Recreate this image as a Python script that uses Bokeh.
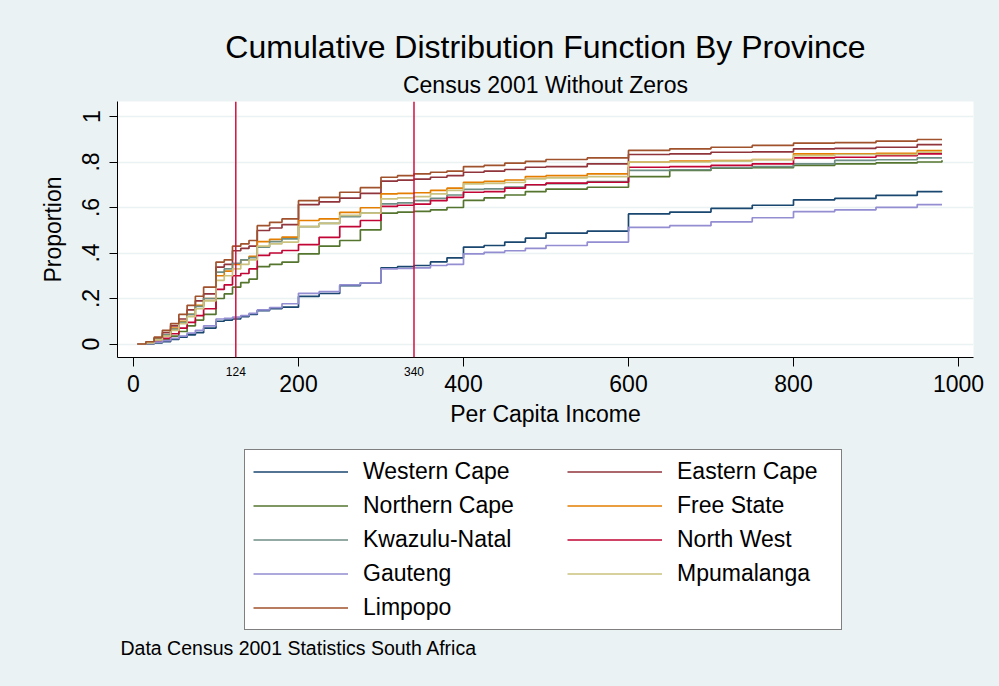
from bokeh.plotting import figure
from bokeh.layouts import column
from bokeh.models import Range1d, Span, Label, Legend, LegendItem, FixedTicker, LinearAxis
from bokeh.embed import file_html
from bokeh.resources import INLINE

# ---------------- data ----------------
income = [5, 15, 25, 35, 45, 55, 65, 75, 85, 100, 110, 120, 130, 140, 150, 165, 180,
          200, 225, 250, 275, 300, 320, 340, 360, 380, 400, 425, 450, 475, 500, 550,
          600, 650, 700, 750, 800, 850, 900, 950, 980]

western_cape = [0, 0.0, 0.005, 0.01, 0.02, 0.03, 0.04, 0.05, 0.07,
                0.10, 0.105, 0.11, 0.12, 0.13, 0.147, 0.155, 0.162,
                0.209, 0.222, 0.257, 0.269,
                0.335, 0.34, 0.345, 0.361, 0.379,
                0.426, 0.433, 0.448, 0.465, 0.487, 0.496,
                0.572, 0.58, 0.596, 0.61,
                0.634, 0.64, 0.653, 0.67, 0.672]
eastern_cape = [0, 0.008, 0.025, 0.05, 0.08, 0.11, 0.15, 0.19, 0.22,
                0.338, 0.35, 0.41, 0.42, 0.43, 0.499, 0.51, 0.525,
                0.613, 0.625, 0.641, 0.662,
                0.716, 0.72, 0.725, 0.733, 0.74,
                0.755, 0.76, 0.767, 0.777, 0.78, 0.792,
                0.833, 0.836, 0.843, 0.845,
                0.858, 0.86, 0.865, 0.876, 0.876]
northern_cape = [0, 0.003, 0.01, 0.02, 0.035, 0.055, 0.08, 0.105, 0.13,
                 0.20, 0.22, 0.25, 0.27, 0.285, 0.34, 0.35, 0.36,
                 0.396, 0.43, 0.455, 0.502,
                 0.575, 0.58, 0.583, 0.59, 0.60,
                 0.631, 0.642, 0.655, 0.67, 0.681, 0.689,
                 0.736, 0.763, 0.773, 0.775,
                 0.785, 0.792, 0.796, 0.80, 0.808]
free_state = [0, 0.005, 0.02, 0.04, 0.07, 0.10, 0.13, 0.17, 0.20,
              0.30, 0.32, 0.35, 0.37, 0.385, 0.45, 0.46, 0.47,
              0.543, 0.55, 0.579, 0.599,
              0.66, 0.662, 0.665, 0.675, 0.685,
              0.711, 0.715, 0.721, 0.736, 0.74, 0.748,
              0.80, 0.804, 0.806, 0.811,
              0.836, 0.836, 0.838, 0.85, 0.85]
kwazulu_natal = [0, 0.006, 0.02, 0.04, 0.065, 0.095, 0.13, 0.165, 0.20,
                 0.316, 0.33, 0.355, 0.37, 0.38, 0.426, 0.45, 0.462,
                 0.516, 0.53, 0.56, 0.575,
                 0.616, 0.62, 0.63, 0.64, 0.655,
                 0.68, 0.682, 0.69, 0.70, 0.705, 0.714,
                 0.763, 0.766, 0.775, 0.78,
                 0.792, 0.807, 0.81, 0.818, 0.818]
north_west = [0, 0.004, 0.012, 0.025, 0.045, 0.07, 0.095, 0.125, 0.155,
              0.24, 0.26, 0.30, 0.31, 0.33, 0.39, 0.40, 0.411,
              0.437, 0.469, 0.516, 0.543,
              0.605, 0.61, 0.615, 0.63, 0.645,
              0.667, 0.67, 0.685, 0.70, 0.707, 0.711,
              0.777, 0.78, 0.785, 0.792,
              0.818, 0.821, 0.828, 0.836, 0.836]
gauteng = [0, 0.002, 0.008, 0.015, 0.025, 0.035, 0.048, 0.06, 0.08,
           0.11, 0.113, 0.118, 0.125, 0.135, 0.15, 0.16, 0.177,
           0.223, 0.23, 0.26, 0.269,
           0.33, 0.332, 0.335, 0.345, 0.35,
           0.396, 0.403, 0.41, 0.42, 0.433, 0.448,
           0.513, 0.52, 0.537, 0.555,
           0.582, 0.59, 0.601, 0.613, 0.613]
mpumalanga = [0, 0.005, 0.018, 0.035, 0.06, 0.09, 0.12, 0.155, 0.19,
              0.28, 0.30, 0.33, 0.35, 0.37, 0.43, 0.44, 0.448,
              0.516, 0.53, 0.565, 0.575,
              0.638, 0.642, 0.648, 0.66, 0.675,
              0.704, 0.706, 0.71, 0.726, 0.73, 0.736,
              0.80, 0.80, 0.804, 0.81,
              0.828, 0.833, 0.833, 0.843, 0.843]
limpopo = [0, 0.01, 0.03, 0.06, 0.09, 0.13, 0.17, 0.21, 0.25,
           0.36, 0.37, 0.43, 0.44, 0.455, 0.52, 0.535, 0.55,
           0.63, 0.645, 0.667, 0.687,
           0.733, 0.74, 0.748, 0.755, 0.76,
           0.78, 0.785, 0.795, 0.803, 0.811, 0.818,
           0.851, 0.858, 0.865, 0.873,
           0.883, 0.885, 0.892, 0.899, 0.899]

province_names = ["Western Cape", "Eastern Cape", "Northern Cape", "Free State",
                  "Kwazulu-Natal", "North West", "Gauteng", "Mpumalanga", "Limpopo"]
province_values = [western_cape, eastern_cape, northern_cape, free_state,
                   kwazulu_natal, north_west, gauteng, mpumalanga, limpopo]
province_colors = ["#1a476f", "#90353b", "#55752f", "#e37e00",
                   "#6e8e84", "#c10534", "#938dd2", "#cac27e", "#a0522d"]

x_ticks = [0, 200, 400, 600, 800, 1000]
y_ticks = [0, 0.2, 0.4, 0.6, 0.8, 1.0]
y_tick_labels = ["0", ".2", ".4", ".6", ".8", "1"]
cutoffs = [124, 340]

title_text = "Cumulative Distribution Function By Province"
subtitle_text = "Census 2001 Without Zeros"
note_text = "Data Census 2001 Statistics South Africa"

FONT = "Liberation Sans"
BG = "#eaf2f3"
W = 999
TOP_H, MAIN_H, BOT_H = 101, 339, 246
FRAME_L, FRAME_R = 117, 973          # page x of the plot frame (shared by the column)
LW = 1.7


def blank_panel(height, y_top):
    f = figure(width=W, height=height, x_range=Range1d(FRAME_L, FRAME_R),
               y_range=Range1d(y_top + height, y_top),
               x_axis_type=None, y_axis_type=None, title=None,
               output_backend="svg", toolbar_location=None,
               min_border_left=FRAME_L, min_border_right=W - FRAME_R,
               min_border_top=0, min_border_bottom=0,
               background_fill_color=BG, border_fill_color=BG,
               outline_line_color=None)
    f.grid.visible = False
    return f


# ---------------- title panel ----------------
top = blank_panel(TOP_H, 0)
top.add_layout(Label(x=545, y=46, text=title_text, text_font=FONT, text_font_size="32px",
                     text_align="center", text_baseline="middle", text_color="black"))
top.add_layout(Label(x=545, y=84, text=subtitle_text, text_font=FONT, text_font_size="23px",
                     text_align="center", text_baseline="middle", text_color="black"))

# ---------------- main plot ----------------
p = figure(width=W, height=MAIN_H, title=None,
           x_range=Range1d(-19.39, 1018.2), y_range=Range1d(-0.0593, 1.066),
           output_backend="svg", toolbar_location=None,
           min_border_left=FRAME_L, min_border_right=W - FRAME_R,
           min_border_top=0, min_border_bottom=MAIN_H - 256,
           background_fill_color="white", border_fill_color=BG,
           outline_line_color=None)

p.xgrid.visible = False
p.ygrid.grid_line_color = BG
p.ygrid.grid_line_width = 1.5

# inner x axis: tick marks at the round values, small labels at the cut-offs
xa = p.xaxis[0]
xa.ticker = FixedTicker(ticks=cutoffs, minor_ticks=x_ticks)
xa.axis_line_color = "black"
xa.major_tick_line_color = None
xa.major_tick_in = 0
xa.major_tick_out = 9
xa.minor_tick_line_color = "black"
xa.minor_tick_in = 0
xa.minor_tick_out = 9
xa.major_label_text_font = FONT
xa.major_label_text_font_size = "12px"
xa.major_label_text_color = "black"
xa.major_label_standoff = 0

# outer x axis: the main tick labels and the axis title
xb = LinearAxis(ticker=FixedTicker(ticks=x_ticks), axis_line_color=None,
                major_tick_line_color=None, major_tick_in=0, major_tick_out=0,
                minor_tick_line_color=None,
                major_label_text_font=FONT, major_label_text_font_size="23px",
                major_label_text_color="black", major_label_standoff=-4,
                axis_label="Per Capita Income", axis_label_text_font=FONT,
                axis_label_text_font_size="23px", axis_label_text_font_style="normal",
                axis_label_text_color="black", axis_label_standoff=6)
p.add_layout(xb, "below")

ya = p.yaxis[0]
ya.ticker = FixedTicker(ticks=y_ticks)
ya.major_label_overrides = {t: s for t, s in zip(y_ticks, y_tick_labels)}
ya.major_label_orientation = "vertical"
ya.axis_line_color = "black"
ya.major_tick_line_color = "black"
ya.minor_tick_line_color = None
ya.major_tick_in = 0
ya.major_tick_out = 8
ya.major_label_text_font = FONT
ya.major_label_text_font_size = "23px"
ya.major_label_text_color = "black"
ya.major_label_standoff = 10
ya.axis_label = "Proportion"
ya.axis_label_text_font = FONT
ya.axis_label_text_font_size = "23px"
ya.axis_label_text_font_style = "normal"
ya.axis_label_text_color = "black"
ya.axis_label_standoff = 14

for c in cutoffs:
    p.add_layout(Span(location=c, dimension="height", line_color="#d11141", line_width=1.5))

for name, vals, col in zip(province_names, province_values, province_colors):
    p.step(income, vals, mode="after", line_color=col, line_width=LW)

# ---------------- legend / note panel ----------------
bot = blank_panel(BOT_H, TOP_H + MAIN_H)
# legend swatches: lines kept outside the visible range of this panel
proxies = [bot.line(x=[0, 1], y=[0, 0], line_color=col, line_width=LW) for col in province_colors]

PAD, SP, ROW = 8, 7, 27


def make_legend(idx, loc, boxed, label_width):
    leg = Legend(items=[LegendItem(label=province_names[i], renderers=[proxies[i]]) for i in idx],
                 location=loc, orientation="vertical", margin=0, padding=PAD, spacing=SP,
                 glyph_width=95, glyph_height=ROW, label_height=ROW, label_width=label_width,
                 label_standoff=15, label_text_font=FONT, label_text_font_size="23px",
                 label_text_color="black")
    if boxed:
        leg.border_line_color = "black"
        leg.border_line_width = 1
        leg.background_fill_color = "white"
        leg.background_fill_alpha = 1
    else:
        leg.border_line_color = None
        leg.background_fill_alpha = 0
    return leg


col1 = [0, 2, 4, 6, 8]
col2 = [1, 3, 5, 7]
box_top = 451                      # page y of the legend box top
h1 = 2 * PAD + len(col1) * ROW + (len(col1) - 1) * SP
h2 = 2 * PAD + len(col2) * ROW + (len(col2) - 1) * SP
page_bottom = TOP_H + MAIN_H + BOT_H
bot.add_layout(make_legend(col1, (244 - FRAME_L, page_bottom - (box_top + h1)), True, 470))
bot.add_layout(make_legend(col2, (567 - FRAME_L, page_bottom - (box_top + h2) + 9), False, 150))

bot.add_layout(Label(x=120, y=647, text=note_text, text_font=FONT, text_font_size="19.5px",
                     text_align="left", text_baseline="middle", text_color="black"))

layout = column(top, p, bot, spacing=0, styles={"background-color": BG})
open("out.html", "w").write(file_html(layout, INLINE))
